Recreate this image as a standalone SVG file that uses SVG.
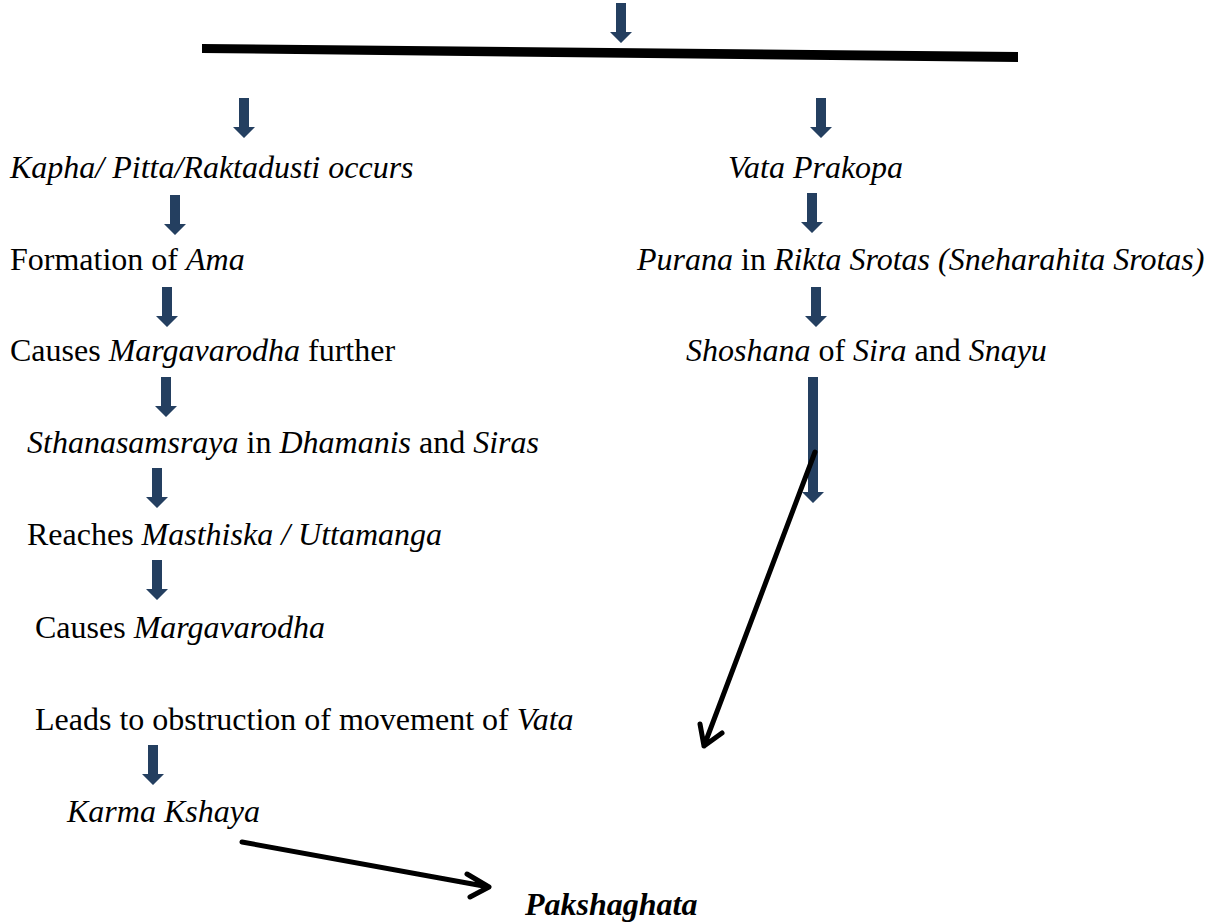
<svg xmlns="http://www.w3.org/2000/svg" width="1217" height="923" viewBox="0 0 1217 923">
<defs>
<style>
text{font-family:"Liberation Serif","Times New Roman",serif;font-size:32px;fill:#000}
.i{font-style:italic}
.b{font-weight:bold;font-style:italic}
.ba{fill:#243F60}
.ln{stroke:#000;stroke-width:5;fill:none;stroke-linecap:round;stroke-linejoin:round}
</style>
<path id="ba" class="ba" d="M-5,0 H5 V29 H11 L0,40 L-11,29 H-5 Z"/>
</defs>
<rect width="1217" height="923" fill="#fff"/>
<g id="connectors">
<polygon points="202,44 1018,52 1018,62 202,53" fill="#000"/>
<use href="#ba" x="621" y="3"/>
<use href="#ba" x="244" y="98"/>
<use href="#ba" x="821" y="98"/>
<use href="#ba" x="175" y="195"/>
<use href="#ba" x="812" y="193"/>
<use href="#ba" x="167" y="287"/>
<use href="#ba" x="816" y="287"/>
<use href="#ba" x="166" y="377"/>
<use href="#ba" x="157" y="468"/>
<use href="#ba" x="157" y="560"/>
<use href="#ba" x="153" y="745"/>
<path class="ba" d="M808,377 H818 V492 H824 L813,503 L802,492 H808 Z"/>
<path class="ln" d="M815,452 L704,746 M700,724 L704,746 L722,733"/>
<path class="ln" d="M242,842 L489,887 M467,874 L489,887 L470,897"/>
</g>
<g id="n1"><text x="10" y="178" class="i">Kapha/ Pitta/Raktadusti occurs</text></g>
<g id="n2"><text x="728" y="178" class="i">Vata Prakopa</text></g>
<g id="n3"><text x="10" y="270">Formation of <tspan class="i">Ama</tspan></text></g>
<g id="n4"><text x="637" y="270"><tspan class="i">Purana</tspan> in <tspan class="i">Rikta Srotas (Sneharahita Srotas)</tspan></text></g>
<g id="n5"><text x="10" y="361">Causes <tspan class="i">Margavarodha</tspan> further</text></g>
<g id="n6"><text x="686" y="361"><tspan class="i">Shoshana</tspan> of <tspan class="i">Sira</tspan> and <tspan class="i">Snayu</tspan></text></g>
<g id="n7"><text x="27" y="453"><tspan class="i">Sthanasamsraya</tspan> in <tspan class="i">Dhamanis</tspan> and <tspan class="i">Siras</tspan></text></g>
<g id="n8"><text x="27" y="545">Reaches <tspan class="i">Masthiska / Uttamanga</tspan></text></g>
<g id="n9"><text x="35" y="638">Causes <tspan class="i">Margavarodha</tspan></text></g>
<g id="n10"><text x="35" y="730">Leads to obstruction of movement of <tspan class="i">Vata</tspan></text></g>
<g id="n11"><text x="67" y="822" class="i">Karma Kshaya</text></g>
<g id="n12"><text x="525" y="915" class="b">Pakshaghata</text></g>
</svg>
